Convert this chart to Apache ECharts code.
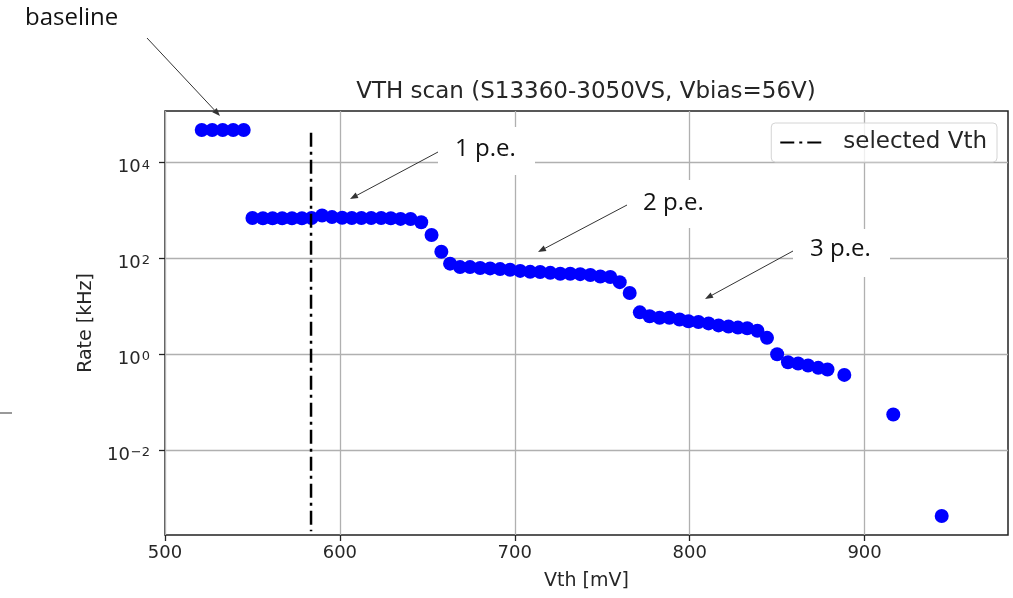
<!DOCTYPE html>
<html>
<head>
<meta charset="utf-8">
<script src="https://cdn.jsdelivr.net/npm/echarts@6/dist/echarts.min.js"></script>
<style>
  html, body { margin: 0; padding: 0; background: #fff; }
  #chart { width: 1013px; height: 598px; }
</style>
</head>
<body>
<div id="chart"></div>
<script>
// threshold scan points
const vthMv = [
    521, 527, 533, 539, 545,
    550, 556, 561.5, 567, 572.6, 578.3, 583.8, 589.8, 595.5, 601.3, 606.8, 612.3, 617.9, 623.6, 629.1, 634.7, 640.4, 646.5,
    652.4, 658, 663,
    668.7, 674.4, 680.2, 685.9, 691.6, 697.3, 703.1, 708.8, 714.5, 720.3, 726, 731.7, 737.4, 743.2, 748.9, 754.6, 760, 765.7,
    771.5, 777.1, 782.8, 788.4, 794.2, 799.3, 805, 810.8, 816.5, 822.2, 827.6, 832.9, 838.7, 844.2,
    850, 856.2, 862, 867.7, 873.5, 878.8, 888.4, 916.4, 944.1
]
const rateKhz = [
    48000, 48000, 48000, 48000, 48000,
    700, 690, 690, 690, 690, 690, 700, 790, 730, 710, 700, 700, 700, 700, 690, 670, 665, 570,
    310, 138, 78,
    66, 66, 63, 62, 60, 58, 55, 52.5, 52, 50, 48, 48, 47, 45, 42, 41, 32, 19,
    7.5, 6.2, 5.8, 5.8, 5.3, 4.9, 4.7, 4.4, 4.0, 3.8, 3.6, 3.5, 3.1, 2.2,
    1.0, 0.68, 0.64, 0.58, 0.52, 0.48, 0.37, 0.055, 0.00042
]

// selected threshold (vertical dash-dot line)
const selVth = 583.5
const selRange = [42000, 0.0002]

// tick values
const xTicks = [500, 600, 700, 800, 900]
const yTicks = [0.01, 1, 100, 10000]

// text annotations drawn over the figure
const notes = [
    { text: 'baseline', x: 25, y: 18, box: null, from: [147, 38], to: [220, 116] },
    { text: '1 p.e.', x: 455, y: 149, box: [438, 127, 97, 48], from: [438, 152], to: [350, 199] },
    { text: '2 p.e.', x: 643, y: 203, box: [627, 180, 97, 48], from: [627, 205], to: [538, 252] },
    { text: '3 p.e.', x: 810, y: 249, box: [793, 229, 97, 48], from: [793, 251], to: [705, 299] },
]

const txtColor = '#262626'
const font = 'DejaVu Sans'

const arrow = (from, to) => {
    const dx = to[0] - from[0]
    const dy = to[1] - from[1]
    const len = Math.sqrt(dx * dx + dy * dy)
    const ux = dx / len, uy = dy / len
    const hl = 8, hw = 3
    const bx = to[0] - ux * hl, by = to[1] - uy * hl
    return [
        {
            type: 'line', z: 110,
            shape: { x1: from[0], y1: from[1], x2: bx, y2: by },
            style: { stroke: '#333', lineWidth: 1 }
        },
        {
            type: 'polygon', z: 110,
            shape: { points: [to, [bx - uy * hw, by + ux * hw], [bx + uy * hw, by - ux * hw]] },
            style: { fill: '#333' }
        }
    ]
}

const graphics = []
notes.forEach(n => {
    if (n.box) {
        graphics.push({
            type: 'rect', z: 100,
            shape: { x: n.box[0], y: n.box[1], width: n.box[2], height: n.box[3] },
            style: { fill: '#fff' }
        })
    }
    graphics.push({
        type: 'text', z: 110,
        x: n.x, y: n.y,
        style: { text: n.text, fill: '#111', font: '24px "Open Sans"', verticalAlign: 'middle' }
    })
    graphics.push(...arrow(n.from, n.to))
})
// small stray stroke on the left edge
graphics.push({
    type: 'rect', z: 100,
    shape: { x: 0, y: 412, width: 12, height: 2 },
    style: { fill: '#999' }
})

const supExp = (v) => {
    const e = Math.round(Math.log10(v))
    const s = e < 0 ? '\u2212' + Math.abs(e) : String(e)
    return '{b|10}{s|' + s + '}'
}

const myChart = echarts.init(document.getElementById('chart'))
const option = {
    backgroundColor: '#fff',
    animation: false,
    title: {
        text: 'VTH scan (S13360-3050VS, Vbias=56V)',
        left: 586,
        textAlign: 'center',
        top: 81,
        padding: 0,
        textStyle: { fontFamily: font, fontSize: 23, fontWeight: 'normal', color: txtColor }
    },
    legend: {
        data: ['selected Vth'],
        right: 16,
        top: 123,
        padding: [8, 10, 8, 8],
        itemWidth: 46,
        itemHeight: 14,
        itemStyle: { opacity: 0 },
        backgroundColor: 'rgba(255,255,255,0.8)',
        borderColor: '#d4d4d4',
        borderWidth: 1,
        borderRadius: 4,
        textStyle: { fontFamily: font, fontSize: 23, color: txtColor, padding: [0, 0, 0, 12] }
    },
    grid: {
        left: 165,
        right: 5,
        top: 111,
        bottom: 63,
        show: true,
        borderColor: '#222',
        borderWidth: 1.5
    },
    xAxis: {
        type: 'value',
        min: 500,
        max: 982,
        name: 'Vth [mV]',
        nameLocation: 'middle',
        nameGap: 37,
        nameTextStyle: { fontFamily: font, fontSize: 19, color: txtColor },
        axisLine: { show: false },
        axisTick: { show: true, length: 6, customValues: xTicks, lineStyle: { color: '#222', width: 1.3 } },
        axisLabel: { fontFamily: font, fontSize: 18, color: txtColor, margin: 9, customValues: xTicks },
        splitLine: { show: true, lineStyle: { color: '#b0b0b0', width: 1.3 } }
    },
    yAxis: {
        type: 'log',
        logBase: 10,
        min: 0.000168,
        max: 120000,
        name: 'Rate [kHz]',
        nameLocation: 'middle',
        nameRotate: 90,
        nameGap: 68,
        nameTextStyle: { fontFamily: font, fontSize: 19, color: txtColor },
        axisLine: { show: false },
        axisTick: { show: true, length: 6, customValues: yTicks, lineStyle: { color: '#222', width: 1.3 } },
        axisLabel: {
            margin: 15,
            customValues: yTicks,
            formatter: supExp,
            rich: {
                b: { fontFamily: font, fontSize: 18, color: txtColor, lineHeight: 18, padding: [10, 0, 0, 0] },
                s: { fontFamily: font, fontSize: 13, color: txtColor, lineHeight: 13, verticalAlign: 'top', padding: [5, 0, 0, 1] }
            }
        },
        splitLine: { show: true, lineStyle: { color: '#b0b0b0', width: 1.3 } }
    },
    series: [
        {
            name: 'rate',
            type: 'scatter',
            symbolSize: 14,
            itemStyle: { color: '#0000ff', opacity: 1 },
            data: vthMv.map((v, i) => [v, rateKhz[i]]),
            z: 3
        },
        {
            name: 'selected Vth',
            type: 'line',
            symbol: 'none',
            lineStyle: { color: '#000', width: 2.5, type: [14, 5, 3, 5] },
            data: selRange.map(r => [selVth, r]),
            z: 4
        }
    ],
    graphic: { elements: graphics }
}

option && myChart.setOption(option)
</script>
</body>
</html>
